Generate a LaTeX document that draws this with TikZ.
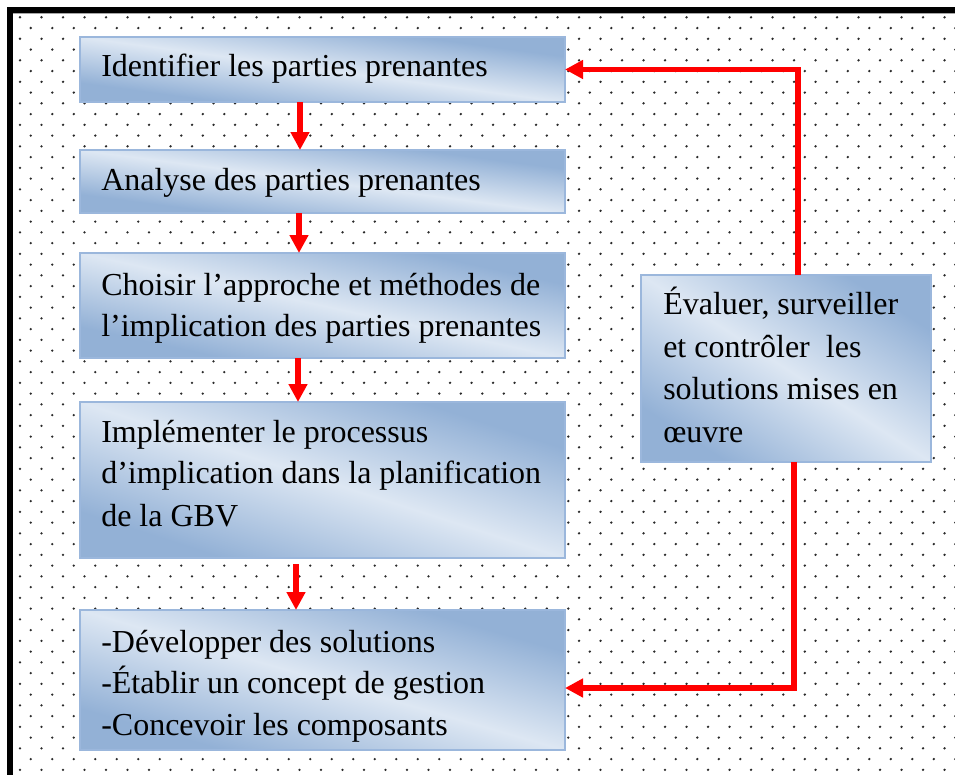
\documentclass[tikz,border=0pt]{standalone}
\usepackage{fontspec}
\setmainfont{Liberation Serif}
\usetikzlibrary{arrows.meta,calc,fit}
\definecolor{dk}{HTML}{93B1D6}
\definecolor{lt}{HTML}{DDE7F3}
\definecolor{edgeblue}{HTML}{9BB7DC}
\definecolor{dotgray}{HTML}{2A2A2A}
\newcommand{\gradbox}[5]{%
  \begin{scope}[transform canvas={shift={({(#2+#4)/2},{(#3+#5)/2})}, xscale={(#4-#2)/100}, yscale={(#5-#3)/100}}]
    \shade[top color=dk, bottom color=dk, middle color=lt, shading angle=-45] (-50,-50) rectangle (50,50);
  \end{scope}
  \node[box, fit={(#2,#3) (#4,#5)}] (#1) {};}
\begin{document}
\begin{tikzpicture}[x=0.75pt,y=-0.75pt,
  box/.style={draw=edgeblue, line width=1.5pt, inner sep=0pt, outer sep=0pt},
  txt/.style={font=\fontsize{24pt}{31.5pt}\selectfont, inner sep=0pt, anchor=base west, text=black},
  arr/.style={draw=red, line width=4.3pt, -{Triangle[width=13.5pt,length=13.5pt]}}]
\useasboundingbox (0,0) rectangle (955,774);
\fill[white] (0,0) rectangle (955,774);
% dotted background
\foreach \j in {0,...,35}{
  \foreach \i in {0,...,44}{
    \fill[dotgray] ({20+21.5*\i},{17.3+21.5*\j}) circle (1.3);
    \fill[dotgray] ({30.75+21.5*\i},{28.05+21.5*\j}) circle (1.3);
  }
}
% page border
\fill[black] (7,7) rectangle (960,13.3);
\fill[black] (7,7) rectangle (13.3,780);
\fill[gray!70] (13.3,13.3) rectangle (960,14.5);
% boxes
\gradbox{b1}{80}{37}{565}{102}
\gradbox{b2}{80}{150}{565}{213}
\gradbox{b3}{80}{253}{565}{358}
\gradbox{b4}{80}{402}{565}{558}
\gradbox{b5}{80}{610}{565}{750}
\gradbox{r}{641}{275}{931}{462}
% texts
\node[txt] (t1) at (101,76) {Identifier les parties prenantes};
\node[txt] (t2) at (101,190) {Analyse des parties prenantes};
\node[txt] (t3a) at (101,295) {Choisir l’approche et méthodes de};
\node[txt] (t3b) at (101,336) {l’implication des parties prenantes};
\node[txt] (t4a) at (101,442) {Implémenter le processus};
\node[txt] (t4b) at (101,483) {d’implication dans la planification};
\node[txt] (t4c) at (101,526) {de la GBV};
\node[txt] (t5a) at (101,652) {-Développer des solutions};
\node[txt] (t5b) at (101,693) {-Établir un concept de gestion};
\node[txt] (t5c) at (101,735) {-Concevoir les composants};
\node[txt] (tra) at (663,314) {Évaluer, surveiller};
\node[txt] (trb) at (663,357) {et contrôler~ les};
\node[txt] (trc) at (663,399) {solutions mises en};
\node[txt] (trd) at (663,442) {œuvre};
% arrows
\draw[arr] ($(b1.south west)+(220,0)$) -- ($(b2.north west)+(220,0)$);
\draw[arr] ($(b2.south west)+(219,0)$) -- ($(b3.north west)+(219,0)$);
\draw[arr] ($(b3.south west)+(218,0)$) -- ($(b4.north west)+(218,0)$);
\draw[arr] ($(b4.south west)+(216,6)$) -- ($(b5.north west)+(216,0)$);
\draw[arr] ($(r.north west)+(157,0)$) |- (b1.east);
\draw[arr] ($(r.south west)+(153,0)$) |- ($(b5.east)+(0,8)$);
\end{tikzpicture}
\end{document}
